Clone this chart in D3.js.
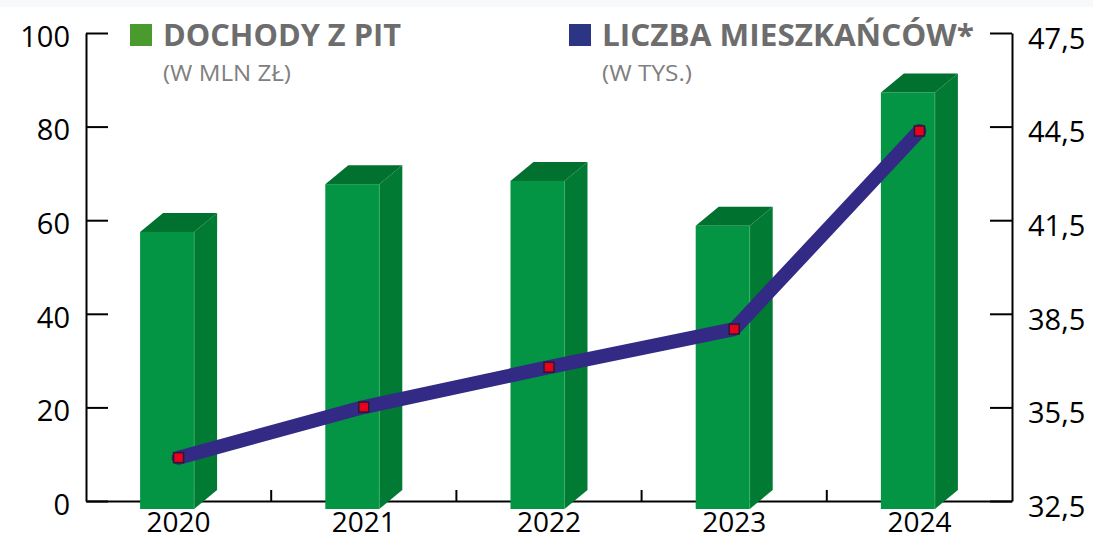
<!DOCTYPE html>
<html>
<head>
<meta charset="utf-8">
<script src="https://cdn.jsdelivr.net/npm/d3@7"></script>
<style>
  html, body { margin: 0; padding: 0; background: #ffffff; }
  svg { display: block; }
</style>
</head>
<body>
<svg id="chart" width="1093" height="539"></svg>
<script>
// ---- data ----
const categories = ["2020", "2021", "2022", "2023", "2024"];
const pitIncome = [57.5, 67.7, 68.4, 58.8, 87.3];          // mln zł (left axis)
const residents = [33.89, 35.51, 36.79, 38.01, 44.36];     // thousands (right axis)
const leftTicks = [0, 20, 40, 60, 80, 100];
const rightTicks = [32.5, 35.5, 38.5, 41.5, 44.5, 47.5];
const legendIncome = ["DOCHODY Z PIT", "(W MLN ZŁ)"];
const legendResidents = ["LICZBA MIESZKAŃCÓW*", "(W TYS.)"];

// ---- layout ----
const W = 1093, H = 539;
const mLeft = 86, mRight = 1012, mTop = 33, mBottom = 501;
const font = "'Open Sans', 'Liberation Sans', sans-serif";

const svg = d3.select("#chart");
svg.append("rect").attr("x", 0).attr("y", 0).attr("width", W).attr("height", 7).attr("fill", "#f8f9fa");

const x = d3.scaleBand().domain(categories).range([mLeft, mRight]).padding(0);
const yL = d3.scaleLinear().domain([0, 100]).range([mBottom, mTop]);
const yR = d3.scaleLinear().domain([32.5, 47.5]).range([mBottom, mTop]);

// ---- axes ----
const axL = d3.axisLeft(yL).tickValues(leftTicks).tickSizeInner(-22).tickSizeOuter(0).tickPadding(16)
  .tickFormat(d3.format("d"));
const gL = svg.append("g").attr("transform", `translate(${mLeft},0)`).call(axL);

const axR = d3.axisRight(yR).tickValues(rightTicks).tickSizeInner(-22).tickSizeOuter(0).tickPadding(16)
  .tickFormat(d => d3.format(".1f")(d).replace(".", ","));
const gR = svg.append("g").attr("transform", `translate(${mRight},0)`).call(axR);

const axB = d3.axisBottom(x).tickSize(0).tickPadding(11);
const gB = svg.append("g").attr("transform", `translate(0,${mBottom})`).call(axB);

[gL, gR, gB].forEach(g => {
  g.selectAll(".domain").attr("stroke", "#000").attr("stroke-width", 2);
  g.selectAll(".tick line").attr("stroke", "#000").attr("stroke-width", 2);
  g.selectAll("text").attr("font-family", font).attr("font-size", 29).attr("fill", "#000");
});
gL.selectAll(".tick text").attr("dy", "0.32em").attr("transform", "translate(0,4)");
gR.selectAll(".tick text").attr("dy", "0.32em").attr("transform", "translate(0,6)");
gB.selectAll(".tick text").attr("font-size", 28).attr("dy", "0.71em");

// boundary ticks between categories on x-axis
const boundaries = categories.slice(1).map(c => x(c));
svg.append("g").selectAll("line").data(boundaries).join("line")
  .attr("x1", d => d).attr("x2", d => d)
  .attr("y1", mBottom).attr("y2", mBottom - 11)
  .attr("stroke", "#000").attr("stroke-width", 2);

// ---- 3D bars ----
const frontW = 54, dx = 23, dy = 19, below = 8;
const bars = svg.append("g");
categories.forEach((c, i) => {
  const cx = x(c) + x.bandwidth() / 2;
  const x0 = cx - 38.5, x1 = x0 + frontW;
  const yt = yL(pitIncome[i]), yb = yL(0) + below;
  bars.append("path")
    .attr("d", `M${x1},${yt} L${x1 + dx},${yt - dy} L${x1 + dx},${yb - dy} L${x1},${yb} Z`)
    .attr("fill", "#017a33");
  bars.append("path")
    .attr("d", `M${x0},${yt} L${x0 + dx},${yt - dy} L${x1 + dx},${yt - dy} L${x1},${yt} Z`)
    .attr("fill", "#01712f");
  bars.append("rect")
    .attr("x", x0).attr("y", yt).attr("width", frontW).attr("height", yb - yt)
    .attr("fill", "#039444");
  bars.append("line")
    .attr("x1", x1).attr("x2", x1).attr("y1", yt).attr("y2", yb)
    .attr("stroke", "#3fae6a").attr("stroke-width", 0.8);
});

// ---- line ----
const pts = categories.map((c, i) => [x(c) + x.bandwidth() / 2, yR(residents[i])]);
svg.append("path")
  .attr("d", d3.line()(pts))
  .attr("fill", "none").attr("stroke", "#322a84").attr("stroke-width", 14)
  .attr("stroke-linejoin", "round").attr("stroke-linecap", "round");
svg.append("g").selectAll("rect").data(pts).join("rect")
  .attr("x", d => d[0] - 5).attr("y", d => d[1] - 5)
  .attr("width", 10).attr("height", 10)
  .attr("fill", "#e8001c").attr("stroke", "#2a1a30").attr("stroke-width", 1.5);

// ---- legend ----
function legend(xs, color, lines, w1, w2) {
  const g = svg.append("g");
  g.append("rect").attr("x", xs).attr("y", 24).attr("width", 22).attr("height", 22).attr("fill", color);
  g.append("text").attr("x", xs + 33).attr("y", 46).text(lines[0])
    .attr("font-family", font).attr("font-weight", "bold").attr("font-size", 31).attr("fill", "#6d6d6d")
    .attr("textLength", w1).attr("lengthAdjust", "spacingAndGlyphs");
  g.append("text").attr("x", xs + 33).attr("y", 81).text(lines[1])
    .attr("font-family", font).attr("font-size", 22).attr("fill", "#808080")
    .attr("textLength", w2).attr("lengthAdjust", "spacingAndGlyphs");
}
legend(130, "#4a9a2e", legendIncome, 238, 128);
legend(569, "#2b3583", legendResidents, 372, 90);
</script>
</body>
</html>
